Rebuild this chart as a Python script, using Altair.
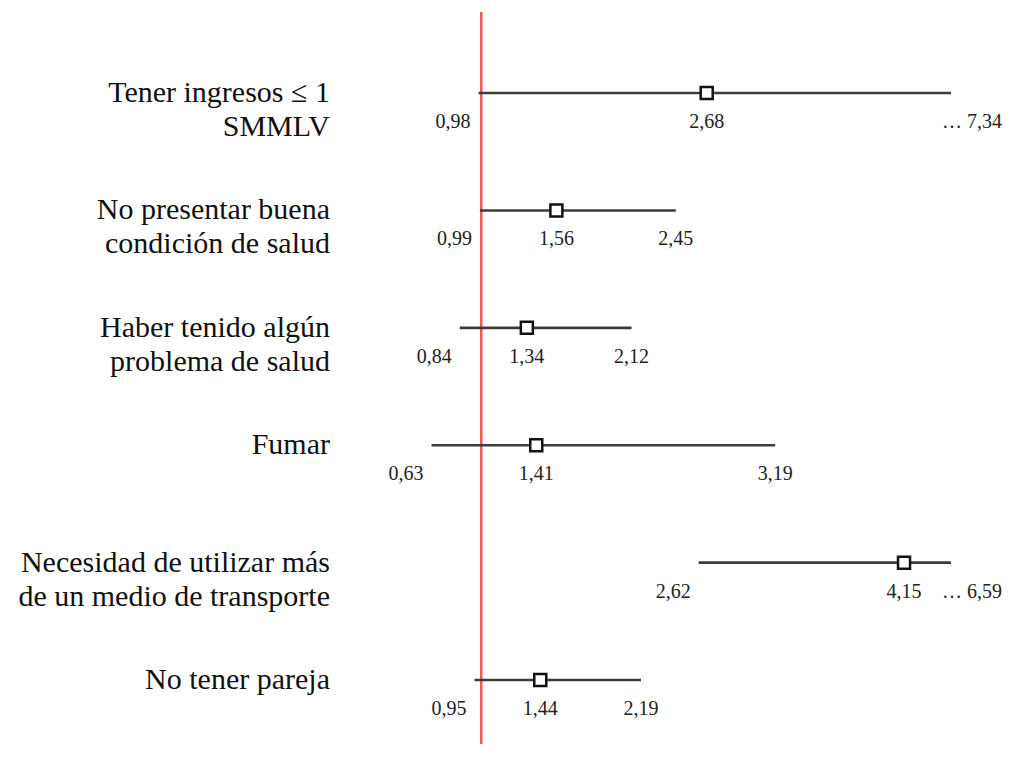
import altair as alt
import pandas as pd

# ---- data ----
labels = [
    "Tener ingresos ≤ 1|SMMLV",
    "No presentar buena|condición de salud",
    "Haber tenido algún|problema de salud",
    "Fumar",
    "Necesidad de utilizar más|de un medio de transporte",
    "No tener pareja",
]
odds = [2.68, 1.56, 1.34, 1.41, 4.15, 1.44]
lower = [0.98, 0.99, 0.84, 0.63, 2.62, 0.95]
upper = [7.34, 2.45, 2.12, 3.19, 6.59, 2.19]
null_value = 1.0
x_max = 4.5  # intervals beyond this are truncated with "…"

def fmt(v):
    return f"{v:.2f}".replace(".", ",")

df = pd.DataFrame({
    "label": labels,
    "odds": odds,
    "lower": lower,
    "upper": upper,
})
df["upper_plot"] = df["upper"].clip(upper=x_max)
df["trunc"] = df["upper"] > x_max
df["odds_txt"] = df["odds"].map(fmt)
df["lower_txt"] = df["lower"].map(fmt)
df["upper_txt"] = [("… " + fmt(u)) if u > x_max else fmt(u) for u in df["upper"]]

SERIF = "Liberation Serif"

x_scale = alt.Scale(domain=[0, x_max], nice=False, zero=False)
y_scale = alt.Scale(type="point", domain=labels, padding=0.6175, align=0.559)

y_enc = alt.Y("label:N", scale=y_scale, sort=labels, axis=None)

base = alt.Chart(df)

ref_rule = base.mark_rule(color="#ef5a5a", strokeWidth=1.8).encode(
    x=alt.datum(null_value, scale=x_scale, axis=None)
)

ci = base.mark_rule(color="#3c3c3c", strokeWidth=2.6).encode(
    x=alt.X("lower:Q", scale=x_scale, axis=None),
    x2="upper_plot:Q",
    y=y_enc,
)

pts = base.mark_point(
    shape="square", filled=True, fill="white", stroke="#111111",
    strokeWidth=2.5, size=144, opacity=1,
).encode(
    x=alt.X("odds:Q", scale=x_scale, axis=None),
    y=y_enc,
)

# category labels (left of the plot, right-aligned at the x-scale origin)
cat_txt = base.mark_text(
    font=SERIF, fontSize=30, lineHeight=34, lineBreak="|", color="#111111",
    align="right", baseline="middle", dx=-17,
).encode(
    x=alt.datum(0, scale=x_scale, axis=None),
    y=y_enc,
    text="label:N",
)

txt_kw = dict(font=SERIF, fontSize=20, color="#222222", baseline="middle", dy=29)

low_txt = base.mark_text(align="right", dx=-8, **txt_kw).encode(
    x=alt.X("lower:Q", scale=x_scale, axis=None),
    y=y_enc,
    text="lower_txt:N",
)

odds_txt = base.mark_text(align="center", **txt_kw).encode(
    x=alt.X("odds:Q", scale=x_scale, axis=None),
    y=y_enc,
    text="odds_txt:N",
)

high_txt = base.transform_filter("!datum.trunc").mark_text(align="center", **txt_kw).encode(
    x=alt.X("upper_plot:Q", scale=x_scale, axis=None),
    y=y_enc,
    text="upper_txt:N",
)

trunc_txt = base.transform_filter("datum.trunc").mark_text(align="left", dx=-9, **txt_kw).encode(
    x=alt.X("upper_plot:Q", scale=x_scale, axis=None),
    y=y_enc,
    text="upper_txt:N",
)

chart = alt.layer(ref_rule, ci, pts, cat_txt, low_txt, odds_txt, high_txt, trunc_txt).properties(
    width=604,
    height=732,
    autosize=alt.AutoSizeParams(type="none"),
    padding={"left": 339, "top": 4, "right": 52, "bottom": 0},
    background="white",
).configure_view(stroke=None).configure_text(font=SERIF)

chart.save("out.html", embed_options={"renderer": "svg", "actions": False})
